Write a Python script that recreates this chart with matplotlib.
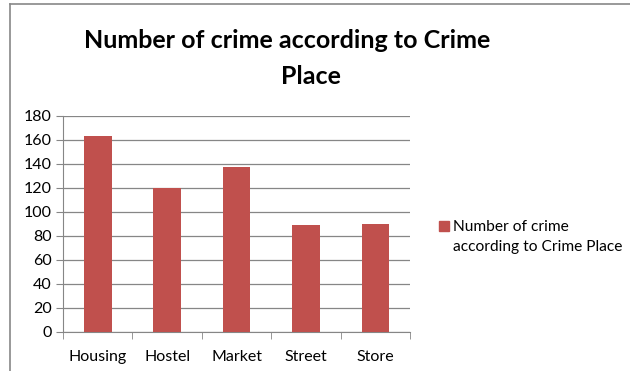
import matplotlib.pyplot as plt
from matplotlib.patches import Rectangle
from matplotlib.lines import Line2D

places = ['Housing', 'Hostel', 'Market', 'Street', 'Store']
crimes = [163, 120, 137, 89, 90]
series_name = 'Number of crime\naccording to Crime Place'
title_lines = ['Number of crime according to Crime', 'Place']

plt.rcParams['font.family'] = ['Lato', 'DejaVu Sans']

fig = plt.figure(figsize=(6.3, 3.71), dpi=100)
ax = fig.add_axes([0.1, 0.106, 0.551, 0.582])

x = range(len(places))
ax.bar(x, crimes, width=0.4, color='#C0504D', zorder=3)

ax.set_xlim(-0.5, len(places) - 0.5)
ax.set_ylim(0, 180)
ax.set_yticks(range(0, 181, 20))
ax.set_xticks(list(x))
ax.set_xticklabels(places, fontsize=11.5)
ax.set_xticks([i - 0.5 for i in range(len(places) + 1)], minor=True)
ax.tick_params(axis='x', which='major', length=0, pad=13)
ax.tick_params(axis='x', which='minor', length=5, color='#868686')
ax.tick_params(axis='y', length=5, color='#868686', labelsize=11.5, pad=3)
ax.grid(axis='y', color='#868686', linewidth=0.9, zorder=0)

for side in ['top', 'right']:
    ax.spines[side].set_visible(False)
for side in ['left', 'bottom']:
    ax.spines[side].set_color('#868686')
ax.spines['left'].set_linewidth(0.8)

# title, two lines as in the original
fig.text(287 / 630, 1 - 48 / 371, title_lines[0], ha='center', va='baseline',
         fontsize=18, fontweight='bold')
fig.text(311 / 630, 1 - 84 / 371, title_lines[1], ha='center', va='baseline',
         fontsize=18, fontweight='bold')

# legend
fig.patches.append(Rectangle((439 / 630, 1 - 231 / 371), 10 / 630, 10 / 371,
                             transform=fig.transFigure, color='#C0504D'))
fig.text(453 / 630, 1 - 237 / 371, series_name, fontsize=11.2, va='center',
         ha='left', linespacing=1.55)

# chart frame (left and top edges visible)
fig.lines.append(Line2D([10 / 630, 10 / 630], [0, 1 - 4 / 371],
                        transform=fig.transFigure, color='#888888', linewidth=1.2))
fig.lines.append(Line2D([10 / 630, 1], [1 - 4 / 371, 1 - 4 / 371],
                        transform=fig.transFigure, color='#888888', linewidth=1.2))

fig.savefig('out.png', dpi=100)
